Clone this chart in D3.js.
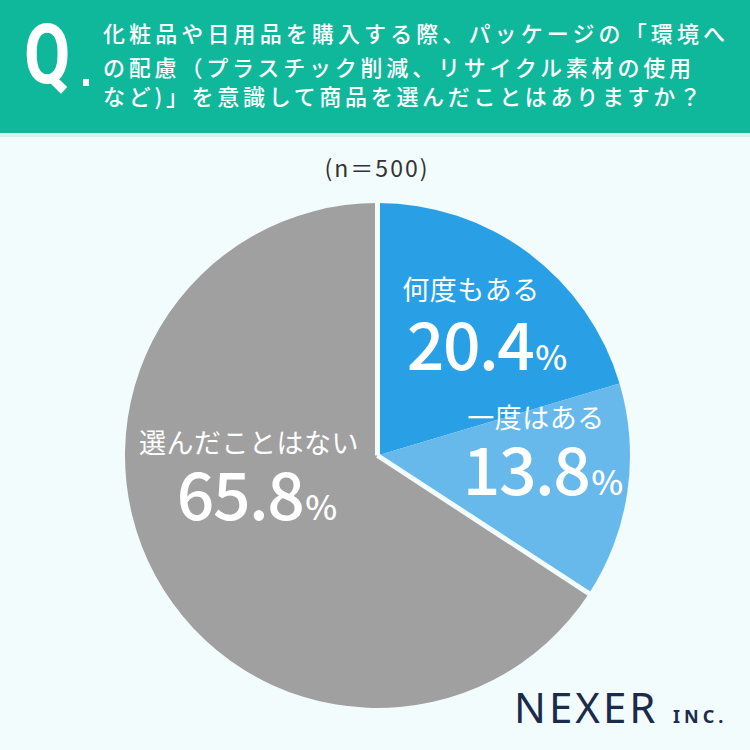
<!DOCTYPE html>
<html><head><meta charset="utf-8">
<script src="https://cdn.jsdelivr.net/npm/d3@7"></script>
<style>
html,body{margin:0;padding:0;background:#f2fcfc;}
svg{display:block;}
</style></head>
<body>
<svg id="c" width="750" height="750"></svg>
<script>
const categories = ["何度もある", "一度はある", "選んだことはない"];
const values = [20.4, 13.8, 65.8];
const colors = ["#299fe5", "#67b9ec", "#a0a0a0"];
const titleLines = ["化粧品や日用品を購入する際、パッケージの「環境へ", "の配慮（プラスチック削減、リサイクル素材の使用", "など)」を意識して商品を選んだことはありますか？"];
const sampleNote = "(n＝500)";

const svg = d3.select("#c");
const W = 750;
const bg = "#f2fcfc";
svg.append("rect").attr("width", W).attr("height", 750).attr("fill", bg);

// header
svg.append("rect").attr("x", 0).attr("y", 0).attr("width", W).attr("height", 133).attr("fill", "#0fb79b");
svg.append("rect").attr("x", 0).attr("y", 133).attr("width", W).attr("height", 4).attr("fill", "#d5f3ee");
svg.append("text")
  .attr("font-family", "Roboto, 'Noto Sans', sans-serif").attr("font-weight", 700)
  .attr("font-size", 84).attr("fill", "#fff")
  .attr("transform", "translate(24,83) scale(0.8,1)")
  .text("Q");
svg.append("rect").attr("x", 83).attr("y", 79).attr("width", 6).attr("height", 7).attr("fill", "#fff");
const tl = svg.append("g").attr("font-family", "'Noto Sans CJK JP', sans-serif")
  .attr("font-size", 22).attr("fill", "#fff").attr("font-weight", 500);
const lineY = [42, 76, 105];
const lineLen = [622, 588, 598];
titleLines.forEach((t, i) => {
  tl.append("text").attr("x", 103).attr("y", lineY[i])
    .attr("textLength", lineLen[i]).attr("lengthAdjust", "spacing")
    .text(t);
});

svg.append("text").attr("x", 377).attr("y", 177).attr("text-anchor", "middle")
  .attr("font-family", "'Noto Sans CJK JP', sans-serif").attr("font-size", 23)
  .attr("letter-spacing", 2)
  .attr("fill", "#333").text(sampleNote);

// pie
const cx = 377.5, cy = 455.5, R = 252.5;
const g = svg.append("g").attr("transform", `translate(${cx},${cy})`);
const pie = d3.pie().sort(null).value(d => d)(values);
const arc = d3.arc().innerRadius(0).outerRadius(R);
g.selectAll("path.s").data(pie).enter().append("path").attr("class", "s")
  .attr("d", arc).attr("fill", (d, i) => colors[i]);
// white separators around grey slice
[pie[2].startAngle, pie[2].endAngle].forEach(a => {
  g.append("line").attr("x1", 0).attr("y1", 0)
    .attr("x2", (R + 2) * Math.sin(a)).attr("y2", -(R + 2) * Math.cos(a))
    .attr("stroke", bg).attr("stroke-width", 5);
});

// labels
const labelPos = [
  {x: 471, y: 300, nx: 487, ny: 370},
  {x: 536, y: 428, nx: 543, ny: 495},
  {x: 249, y: 453, nx: 257, ny: 520}
];
const lg = svg.append("g").attr("fill", "#fff").attr("text-anchor", "middle");
pie.forEach((d, i) => {
  const p = labelPos[i];
  lg.append("text").attr("x", p.x).attr("y", p.y)
    .attr("font-family", "'Noto Sans CJK JP', sans-serif").attr("font-size", 27).attr("font-weight", 400)
    .attr("letter-spacing", 0.5)
    .text(categories[i]);
  const t = lg.append("text").attr("x", p.nx).attr("y", p.ny)
    .attr("font-family", "'Noto Sans CJK JP', sans-serif").attr("font-weight", 500);
  t.append("tspan").attr("font-size", 66).attr("letter-spacing", -1.5).text(d3.format(".1f")(values[i]));
  t.append("tspan").attr("font-size", 34).attr("dx", 2).text("%");
});

// logo
const logo = svg.append("g").attr("fill", "#1b2b4b");
logo.append("text").attr("x", 514).attr("y", 723)
  .attr("font-family", "'Noto Sans', sans-serif").attr("font-size", 42).attr("letter-spacing", 3)
  .text("NEXER");
logo.append("text").attr("x", 673).attr("y", 723)
  .attr("font-family", "'Noto Sans', sans-serif").attr("font-weight", 700).attr("font-size", 18).attr("letter-spacing", 4)
  .text("INC.");
</script>
</body></html>
